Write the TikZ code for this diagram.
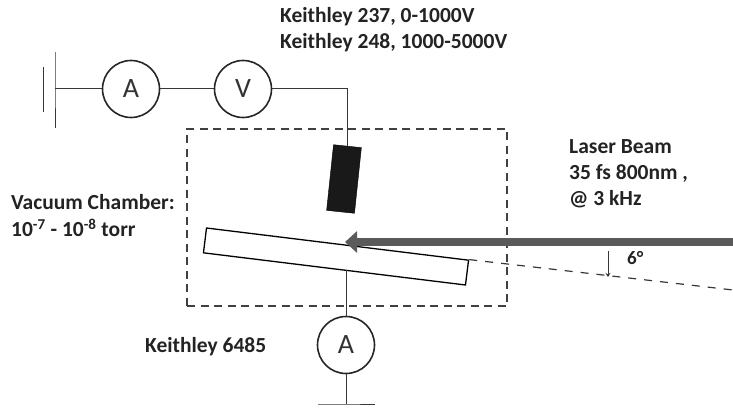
\documentclass[tikz,border=0pt]{standalone}
\usepackage{fontspec}
\setmainfont{Carlito}
\usepackage{xcolor}
\usetikzlibrary{arrows.meta, positioning, calc}
\definecolor{wirecolor}{RGB}{55, 55, 55}
\definecolor{beamcolor}{RGB}{90, 90, 90}
\definecolor{labelcolor}{RGB}{35, 35, 35}

\begin{document}
\begin{tikzpicture}[
    x=1pt, y=-1pt,
    wire/.style={draw=wirecolor, line width=1pt},
    meter/.style={circle, draw=black!85, line width=1.6pt, minimum size=57pt, inner sep=0pt, font=\fontsize{28}{28}\selectfont, text=black!80},
    label/.style={font=\fontsize{21.5}{24}\selectfont\bfseries, text=labelcolor, anchor=west, inner sep=0pt},
    chamber/.style={draw=black!75, line width=1.3pt, dash pattern=on 8pt off 5.5pt},
]
    \useasboundingbox (0,0) rectangle (733,417);
    % Meters
    \node[meter] (ampl) at (131,89) {A};
    \node[meter] (volt) at (243,89) {V};
    \node[meter] (ampb) at (346,345) {A};
    % Chamber and sample
    \node[chamber, minimum width=320pt, minimum height=177pt, inner sep=0pt] (vac) at (347,217.5) {};
    \node[draw=black, line width=1.3pt, fill=white, minimum width=264pt, minimum height=25pt, inner sep=0pt, rotate=-7] (plate) at (336,256.5) {};
    \node[fill=black!90, draw=black, minimum width=28pt, minimum height=66pt, inner sep=0pt, rotate=-6] (probe) at (344,179) {};
    % Ground plates
    \coordinate (gndl) at (55,89);
    \coordinate (gndb) at (346,404);
    \draw[wire] (55,52) -- (gndl) -- (55,128);
    \draw[wire] (43,67) -- (43,112);
    \draw[wire] (318,404) -- (gndb) -- (375,404);
    % Wires
    \draw[wire] (gndl) -- (ampl);
    \draw[wire] (ampl) -- (volt);
    \draw[wire] (volt) -| (probe.north);
    \draw[wire] (plate.south -| ampb.north) -- (ampb.north);
    \draw[wire] (ampb) -- (gndb);
    % Laser beam
    \coordinate (beamin) at (733,242);
    \coordinate (spot) at (345,242);
    \draw[-{Triangle[width=21pt,length=12pt]}, beamcolor, line width=8pt] (beamin) -- (spot);
    % Angle annotation
    \coordinate (tail) at (733,290);
    \coordinate (angtop) at (608,251);
    \coordinate (angbot) at (608,277);
    \draw[wire, line width=1.2pt, dash pattern=on 8pt off 8pt] (plate.north east) -- (tail);
    \draw[-{Stealth[length=4pt,width=5pt]}, wire] (angtop) -- (angbot);
    \node[label, font=\fontsize{19}{22}\selectfont\bfseries] (angle) at (627,258) {6°};
    % Labels
    \node[label] (src1) at (280,17) {Keithley 237, 0-1000V};
    \node[label] (src2) at (280,43) {Keithley 248, 1000-5000V};
    \node[label] (laser1) at (569,147) {Laser Beam};
    \node[label] (laser2) at (569,173) {35 fs 800nm ,};
    \node[label] (laser3) at (569,199) {@ 3 kHz};
    \node[label] (vac1) at (11,202) {Vacuum Chamber:};
    \node[label] (vac2) at (11,228) {10\textsuperscript{-7} - 10\textsuperscript{-8} torr};
    \node[label] (pico) at (145,347) {Keithley 6485};
\end{tikzpicture}
\end{document}
